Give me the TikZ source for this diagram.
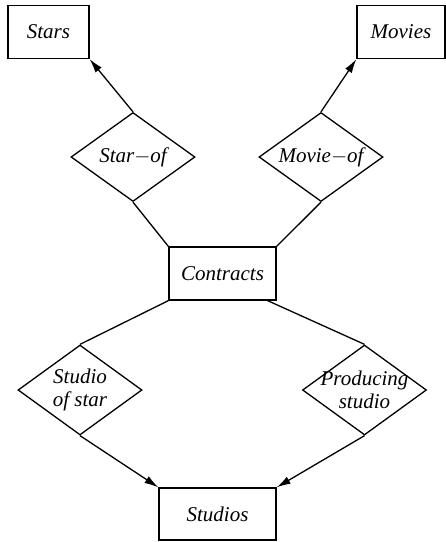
\documentclass[tikz,border=0pt]{standalone}
\usepackage{fontspec}
\setmainfont{Liberation Serif}
\usepackage{tikz}
\usetikzlibrary{arrows.meta,shapes.geometric}

\begin{document}
\begin{tikzpicture}[x=1pt, y=-1pt,
        entity/.style={draw, line width=1.3pt, inner sep=0pt, minimum height=53pt, font=\fontsize{21}{24}\selectfont\itshape},
        relation/.style={draw, diamond, line width=1.3pt, inner sep=-10pt, shape aspect=1.38, align=center, minimum width=124pt, minimum height=89pt, font=\fontsize{21}{23}\selectfont\itshape},
        link/.style={line width=1.3pt},
        >={Latex[length=14pt,width=8pt]}]

        \useasboundingbox (0,0) rectangle (446,542);

        % Nodes
        \node[entity, minimum width=81pt] (stars) at (48.5,32) {Stars};
        \node[entity, minimum width=88pt] (movies) at (401,32) {Movies};

        \node[relation] (starof) at (133,157) {Star$-$of};
        \node[relation] (movieof) at (321,157) {Movie$-$of};

        \node[entity, minimum width=107pt] (contracts) at (222.5,273.5) {Contracts};

        \node[relation, minimum height=90pt] (studioofstar) at (80,390) {Studio\\of star};
        \node[relation, minimum height=90pt] (producing) at (364.5,390) {Producing\\studio};

        \node[entity, minimum width=117pt, minimum height=52pt] (studios) at (217.5,514) {Studios};

        % Edges
        \draw[->, link] (starof.north) -- (stars.south east);
        \draw[->, link] (movieof.north) -- (movies.south west);
        \draw[link] (starof.south) -- (contracts.north west);
        \draw[link] (movieof.south) -- (contracts.north east);
        \draw[link] (contracts.south west) -- (studioofstar.north);
        \draw[link] ([xshift=-9pt]contracts.south east) -- (producing.north);
        \draw[->, link] (studioofstar.south) -- (studios.north west);
        \draw[->, link] (producing.south) -- (studios.north east);

    \end{tikzpicture}
\end{document}
